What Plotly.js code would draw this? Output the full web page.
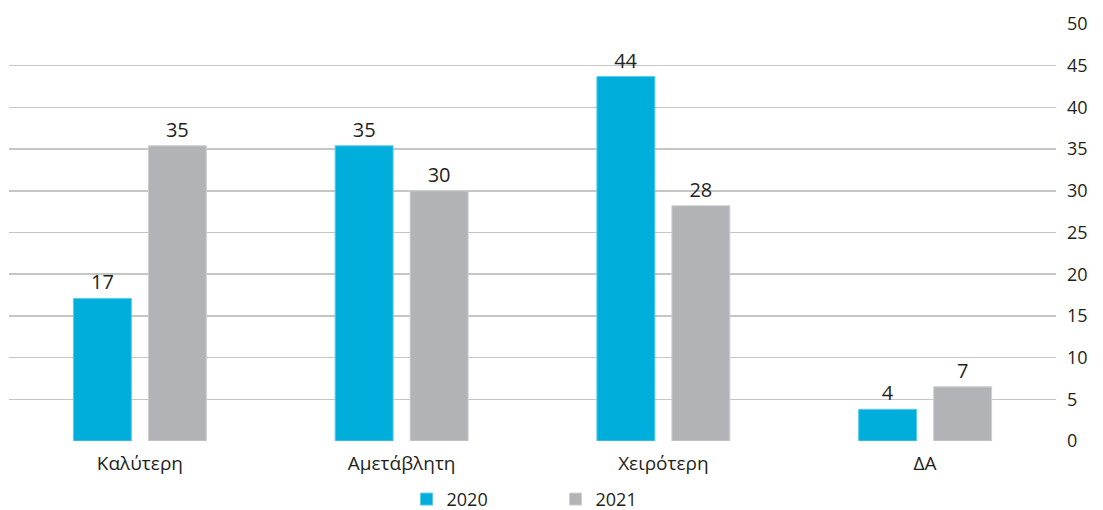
<!DOCTYPE html>
<html>
<head>
<meta charset="utf-8">
<script src="https://cdn.plot.ly/plotly-3.0.1.min.js"></script>
<style>html,body{margin:0;padding:0;background:#fff;}#chart{width:1103px;height:510px;}</style>
</head>
<body>
<div id="chart"></div>
<script>
const categories = ["Καλύτερη", "Αμετάβλητη", "Χειρότερη", "ΔΑ"];
const series2020 = [17.1, 35.4, 43.7, 3.8];
const series2021 = [35.4, 30.0, 28.2, 6.5];
const yTicks = [0, 5, 10, 15, 20, 25, 30, 35, 40, 45, 50];

const fontFam = "'Open Sans', 'Noto Sans', sans-serif";
const traces = [
  {type: "bar", name: "2020", x: categories, y: series2020,
   marker: {color: "#00AEDC", line: {color: "#5CCBEA", width: 1}},
   texttemplate: "%{y:.0f}", textposition: "outside", cliponaxis: false,
   textfont: {family: fontFam, size: 20, color: "#231F20"}, hoverinfo: "skip"},
  {type: "bar", name: "2021", x: categories, y: series2021,
   marker: {color: "#B1B3B6", line: {color: "#CDCFD1", width: 1}},
   texttemplate: "%{y:.0f}", textposition: "outside", cliponaxis: false,
   textfont: {family: fontFam, size: 20, color: "#231F20"}, hoverinfo: "skip"}
];
const layout = {
  width: 1103, height: 510,
  margin: {l: 9, r: 47, t: 24, b: 69, autoexpand: false},
  paper_bgcolor: "#fff", plot_bgcolor: "#fff",
  barmode: "group", bargap: 0.427, bargroupgap: 0.227,
  font: {family: fontFam, size: 18, color: "#231F20"},
  showlegend: true,
  legend: {orientation: "h", x: 0.522, xanchor: "center", y: -0.14, yanchor: "middle",
           entrywidth: 104, entrywidthmode: "pixels", font: {family: fontFam, size: 18, color: "#231F20"}},
  xaxis: {type: "category", showgrid: false, zeroline: false, showline: false, ticks: "",
          tickfont: {family: fontFam, size: 19, color: "#231F20"}, ticklabelstandoff: 9},
  yaxis: {side: "right", range: [0, 50], tickvals: yTicks, ticktext: yTicks.map(String),
          showgrid: true, gridcolor: "#C6C6C6", gridwidth: 1.5, zeroline: false, showline: false,
          ticks: "", ticklabelstandoff: 10, tickfont: {family: fontFam, size: 18, color: "#231F20"}}
};
Plotly.newPlot("chart", traces, layout, {staticPlot: true, displayModeBar: false});
</script>
</body>
</html>
